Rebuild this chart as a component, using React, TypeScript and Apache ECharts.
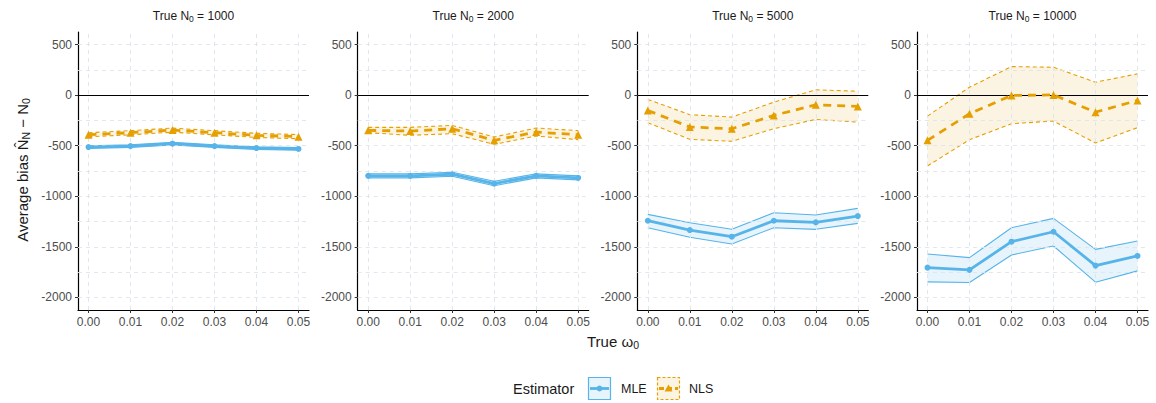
import React, { useEffect, useRef } from 'react';
import * as echarts from 'echarts';

// ---------- data ----------
const omega = [0, 0.01, 0.02, 0.03, 0.04, 0.05];
const trueN0 = [1000, 2000, 5000, 10000];
const xTicks = [0, 0.01, 0.02, 0.03, 0.04, 0.05];
const xMinor = [0.005, 0.015, 0.025, 0.035, 0.045];
const yTicks = [-2000, -1500, -1000, -500, 0, 500];
const yMinor = [-1750, -1250, -750, -250, 250];

const mleMean1000 = [-513, -503, -480, -503, -523, -532];
const mleLo1000 = [-526, -516, -493, -516, -536, -545];
const mleHi1000 = [-500, -490, -467, -490, -510, -519];
const nlsMean1000 = [-391, -371, -345, -371, -397, -410];
const nlsLo1000 = [-412, -392, -366, -392, -418, -431];
const nlsHi1000 = [-371, -351, -326, -351, -377, -390];

const mleMean2000 = [-798, -798, -782, -874, -798, -818];
const mleLo2000 = [-818, -818, -802, -896, -818, -838];
const mleHi2000 = [-778, -778, -762, -852, -778, -798];
const nlsMean2000 = [-348, -355, -332, -447, -365, -391];
const nlsLo2000 = [-371, -397, -381, -486, -404, -440];
const nlsHi2000 = [-318, -318, -299, -414, -325, -351];

const mleMean5000 = [-1242, -1334, -1400, -1242, -1258, -1196];
const mleLo5000 = [-1311, -1406, -1472, -1311, -1327, -1268];
const mleHi5000 = [-1179, -1262, -1327, -1163, -1186, -1120];
const nlsMean5000 = [-151, -315, -332, -200, -95, -111];
const nlsLo5000 = [-272, -437, -456, -332, -240, -266];
const nlsHi5000 = [-42, -193, -217, -69, 53, 39];

const mleMean10000 = [-1706, -1728, -1449, -1351, -1686, -1590];
const mleLo10000 = [-1847, -1853, -1581, -1492, -1850, -1738];
const mleHi10000 = [-1571, -1607, -1311, -1219, -1525, -1443];
const nlsMean10000 = [-447, -184, -3, 3, -168, -52];
const nlsLo10000 = [-700, -440, -282, -256, -473, -321];
const nlsHi10000 = [-207, 79, 283, 276, 128, 211];

const mleMean = [mleMean1000, mleMean2000, mleMean5000, mleMean10000];
const mleLo = [mleLo1000, mleLo2000, mleLo5000, mleLo10000];
const mleHi = [mleHi1000, mleHi2000, mleHi5000, mleHi10000];
const nlsMean = [nlsMean1000, nlsMean2000, nlsMean5000, nlsMean10000];
const nlsLo = [nlsLo1000, nlsLo2000, nlsLo5000, nlsLo10000];
const nlsHi = [nlsHi1000, nlsHi2000, nlsHi5000, nlsHi10000];

// ---------- styling ----------
const BLUE = '#56B4E9';
const ORANGE = '#E69F00';
const BLUE_FILL = 'rgba(86,180,233,0.14)';
const ORANGE_FILL = 'rgba(230,159,0,0.11)';
const FONT = '"Liberation Sans", Arial, Helvetica, sans-serif';
const GRID_COLOR = '#dce5ec';
const TEXT = '#1a1a1a';

const PANEL_LEFT = [78, 357.7, 637.3, 917];
const PANEL_W = 231;
const PANEL_TOP = 32;
const PANEL_H = 278;

function pairs(ys: number[]) {
  return omega.map((x, i) => [x, ys[i]]);
}

function ribbon(p: number, lo: number[], hi: number[], fill: string) {
  return {
    type: 'custom',
    xAxisIndex: p,
    yAxisIndex: p,
    silent: true,
    z: 2,
    data: omega.map((x, i) => [x, lo[i], hi[i]]),
    encode: { x: 0, y: [1, 2] },
    renderItem: (params: any, api: any) => {
      if (params.dataIndex !== 0) return null;
      const pts: number[][] = [];
      for (let i = 0; i < omega.length; i++) pts.push(api.coord([omega[i], hi[i]]));
      for (let i = omega.length - 1; i >= 0; i--) pts.push(api.coord([omega[i], lo[i]]));
      return { type: 'polygon', shape: { points: pts }, style: { fill, stroke: 'none' } };
    },
  };
}

function buildOption() {
  const grids: any[] = [];
  const xAxes: any[] = [];
  const yAxes: any[] = [];
  const series: any[] = [];
  const graphics: any[] = [];

  trueN0.forEach((n0, p) => {
    grids.push({ left: PANEL_LEFT[p], top: PANEL_TOP, width: PANEL_W, height: PANEL_H, containLabel: false });
    xAxes.push({
      type: 'value', gridIndex: p, min: -0.0025, max: 0.0525,
      axisLine: { show: true, onZero: false, lineStyle: { color: '#000', width: 1.2 } },
      axisTick: { show: true, length: 3, customValues: xTicks, lineStyle: { color: '#333', width: 1 } },
      axisLabel: { customValues: xTicks, formatter: (v: number) => v.toFixed(2), color: '#4d4d4d', fontSize: 12, fontFamily: FONT, margin: 6 },
      splitLine: { show: false },
    });
    yAxes.push({
      type: 'value', gridIndex: p, min: -2125, max: 625,
      axisLine: { show: true, onZero: false, lineStyle: { color: '#000', width: 1.2 } },
      axisTick: { show: true, length: 3, customValues: yTicks, lineStyle: { color: '#333', width: 1 } },
      axisLabel: { customValues: yTicks, formatter: (v: number) => String(Math.round(v)), color: '#4d4d4d', fontSize: 12, fontFamily: FONT, margin: 6 },
      splitLine: { show: false },
    });

    // background grid lines
    series.push({
      type: 'line', xAxisIndex: p, yAxisIndex: p, data: [], silent: true, z: 1,
      markLine: {
        silent: true, symbol: ['none', 'none'], label: { show: false }, animation: false,
        lineStyle: { color: GRID_COLOR, type: [4, 4], width: 0.9 },
        data: [
          ...yTicks.map((v) => ({ yAxis: v })),
          ...yMinor.map((v) => ({ yAxis: v })),
          ...xTicks.map((v) => ({ xAxis: v })),
          ...xMinor.map((v) => ({ xAxis: v })),
        ],
      },
    });

    series.push(ribbon(p, mleLo[p], mleHi[p], BLUE_FILL));
    series.push(ribbon(p, nlsLo[p], nlsHi[p], ORANGE_FILL));

    // zero reference line
    series.push({
      type: 'line', xAxisIndex: p, yAxisIndex: p, data: [], silent: true, z: 3,
      markLine: {
        silent: true, symbol: ['none', 'none'], label: { show: false }, animation: false,
        lineStyle: { color: '#000', type: 'solid', width: 1.2 },
        data: [{ yAxis: 0 }],
      },
    });

    const bandLine = (ys: number[], color: string, type: any) => ({
      type: 'line', xAxisIndex: p, yAxisIndex: p, data: pairs(ys), silent: true, z: 4,
      showSymbol: false, symbol: 'none',
      lineStyle: { color, width: 1.1, type },
    });
    series.push(bandLine(mleLo[p], BLUE, 'solid'));
    series.push(bandLine(mleHi[p], BLUE, 'solid'));
    series.push(bandLine(nlsLo[p], ORANGE, [4, 3]));
    series.push(bandLine(nlsHi[p], ORANGE, [4, 3]));

    series.push({
      type: 'line', name: 'MLE', xAxisIndex: p, yAxisIndex: p, data: pairs(mleMean[p]), silent: true, z: 5,
      symbol: 'circle', symbolSize: 6, showSymbol: true,
      itemStyle: { color: BLUE },
      lineStyle: { color: BLUE, width: 2.8 },
    });
    series.push({
      type: 'line', name: 'NLS', xAxisIndex: p, yAxisIndex: p, data: pairs(nlsMean[p]), silent: true, z: 5,
      symbol: 'triangle', symbolSize: 8, showSymbol: true,
      itemStyle: { color: ORANGE },
      lineStyle: { color: ORANGE, width: 2.8, type: [8, 6] },
    });

    graphics.push({
      type: 'text', x: PANEL_LEFT[p] + PANEL_W / 2, y: 16,
      style: {
        text: `True N{sub|0} = ${n0}`, fontSize: 12, fontFamily: FONT, fill: TEXT, textAlign: 'center', textVerticalAlign: 'middle',
        rich: { sub: { fontSize: 8.5, fontFamily: FONT, fill: TEXT, padding: [6, 0, 0, 0] } },
      },
    });
  });

  // axis titles
  graphics.push({
    type: 'text', x: 22, y: 170, rotation: Math.PI / 2,
    style: {
      text: 'Average bias N\u0302{sub|N} \u2212 N{sub|0}',
      fontSize: 15, fontFamily: FONT, fill: TEXT, textAlign: 'center', textVerticalAlign: 'middle',
      rich: { sub: { fontSize: 10.5, fontFamily: FONT, fill: TEXT, padding: [8, 0, 0, 0] } },
    },
  });
  graphics.push({
    type: 'text', x: 613, y: 341,
    style: {
      text: 'True \u03c9{sub|0}', fontSize: 15, fontFamily: FONT, fill: TEXT, textAlign: 'center', textVerticalAlign: 'middle',
      rich: { sub: { fontSize: 10.5, fontFamily: FONT, fill: TEXT, padding: [8, 0, 0, 0] } },
    },
  });

  // legend
  graphics.push({
    type: 'text', x: 513, y: 389,
    style: { text: 'Estimator', fontSize: 14.5, fontFamily: FONT, fill: TEXT, textAlign: 'left', textVerticalAlign: 'middle' },
  });
  graphics.push({ type: 'rect', shape: { x: 588.5, y: 377.5, width: 22, height: 22 }, style: { fill: BLUE_FILL, stroke: BLUE, lineWidth: 1.2 } });
  graphics.push({ type: 'line', shape: { x1: 590, y1: 388.5, x2: 609, y2: 388.5 }, style: { stroke: BLUE, lineWidth: 2.8 } });
  graphics.push({ type: 'circle', shape: { cx: 599.5, cy: 388.5, r: 3 }, style: { fill: BLUE } });
  graphics.push({
    type: 'text', x: 621, y: 389,
    style: { text: 'MLE', fontSize: 12.5, fontFamily: FONT, fill: TEXT, textAlign: 'left', textVerticalAlign: 'middle' },
  });
  graphics.push({ type: 'rect', shape: { x: 657.5, y: 377.5, width: 22, height: 22 }, style: { fill: ORANGE_FILL, stroke: ORANGE, lineWidth: 1.2, lineDash: [3, 2] } });
  graphics.push({ type: 'line', shape: { x1: 659, y1: 388.5, x2: 678, y2: 388.5 }, style: { stroke: ORANGE, lineWidth: 2.8, lineDash: [5, 3] } });
  graphics.push({ type: 'polygon', shape: { points: [[668.5, 384.5], [672.5, 391.5], [664.5, 391.5]] }, style: { fill: ORANGE } });
  graphics.push({
    type: 'text', x: 689, y: 389,
    style: { text: 'NLS', fontSize: 12.5, fontFamily: FONT, fill: TEXT, textAlign: 'left', textVerticalAlign: 'middle' },
  });

  return {
    animation: false,
    backgroundColor: '#ffffff',
    textStyle: { fontFamily: FONT },
    grid: grids,
    xAxis: xAxes,
    yAxis: yAxes,
    series,
    graphic: graphics,
  };
}

export default function App() {
  const ref = useRef<HTMLDivElement>(null);
  useEffect(() => {
    document.body.style.margin = '0';
    if (!ref.current) return;
    const chart = echarts.init(ref.current, undefined, { renderer: 'svg' });
    chart.setOption(buildOption() as any);
    return () => chart.dispose();
  }, []);
  return <div ref={ref} style={{ position: 'fixed', left: 0, top: 0, width: 1156, height: 403, background: '#fff' }} />;
}
